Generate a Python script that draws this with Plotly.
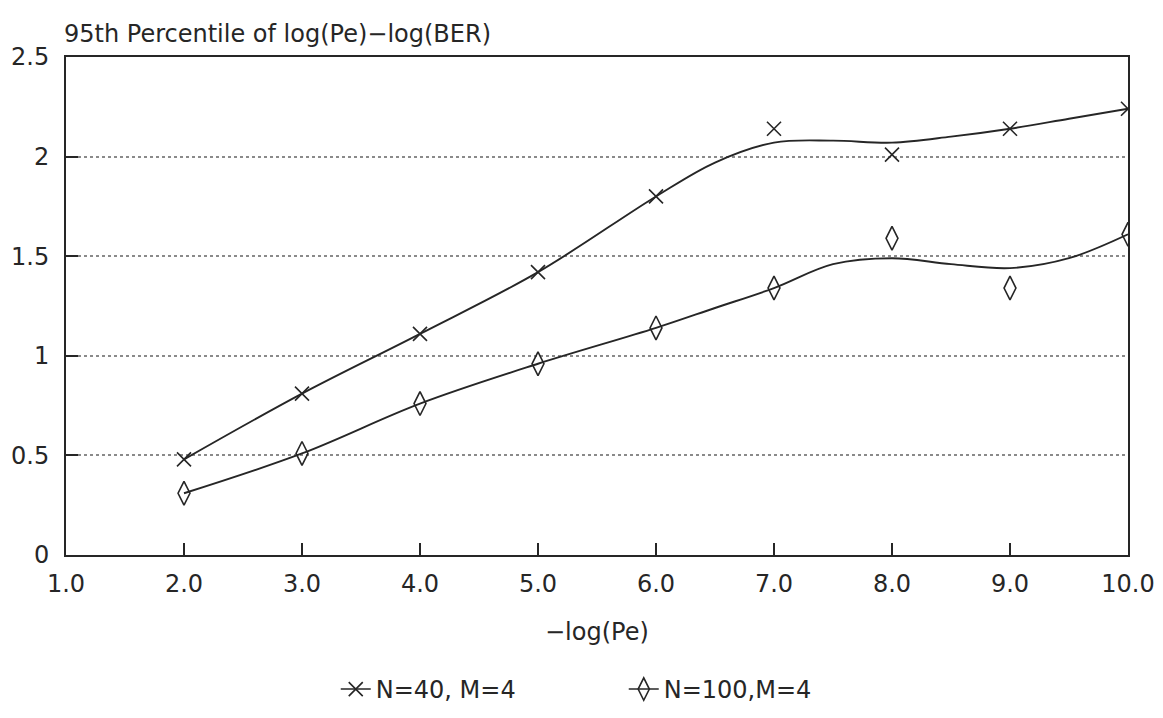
import plotly.graph_objects as go

# Measured points
x_pts = [2.0, 3.0, 4.0, 5.0, 6.0, 7.0, 8.0, 9.0, 10.0]
n40_pts = [0.48, 0.81, 1.11, 1.42, 1.80, 2.14, 2.01, 2.14, 2.24]
n100_pts = [0.31, 0.51, 0.76, 0.96, 1.14, 1.34, 1.59, 1.34, 1.61]

# Smoothed fitted curves
x_fit = [2.0, 3.0, 4.0, 5.0, 6.0, 6.5, 7.0, 7.5, 8.0, 8.5, 9.0, 9.5, 10.0]
n40_fit = [0.48, 0.81, 1.11, 1.42, 1.80, 1.97, 2.07, 2.08, 2.07, 2.10, 2.14, 2.19, 2.24]
n100_fit = [0.31, 0.51, 0.76, 0.96, 1.14, 1.24, 1.34, 1.46, 1.49, 1.46, 1.44, 1.49, 1.61]

x_ticks = [1, 2, 3, 4, 5, 6, 7, 8, 9, 10]
x_labels = ["1.0", "2.0", "3.0", "4.0", "5.0", "6.0", "7.0", "8.0", "9.0", "10.0"]
y_ticks = [0, 0.5, 1, 1.5, 2, 2.5]
y_labels = ["0", "0.5", "1", "1.5", "2", "2.5"]

series_names = ["N=40, M=4", "N=100,M=4"]

INK = "#262626"
FONT = "DejaVu Sans"

fig = go.Figure()

# fitted curves
for yv in (n40_fit, n100_fit):
    fig.add_trace(go.Scatter(x=x_fit, y=yv, mode="lines",
                             line=dict(color=INK, width=1.9, shape="spline", smoothing=1.0),
                             showlegend=False, hoverinfo="skip"))

mk40 = dict(symbol="x-thin-open", size=14, color=INK, line=dict(color=INK, width=1.6))
mk100 = dict(symbol="diamond-tall-open", size=17, color=INK, line=dict(color=INK, width=1.6))

# measured markers
fig.add_trace(go.Scatter(x=x_pts, y=n40_pts, mode="markers", marker=mk40, showlegend=False, name=series_names[0]))
fig.add_trace(go.Scatter(x=x_pts, y=n100_pts, mode="markers", marker=mk100, showlegend=False, name=series_names[1]))

# legend entries (line + marker)
fig.add_trace(go.Scatter(x=[None], y=[None], mode="lines+markers", name=series_names[0],
                         line=dict(color=INK, width=1.6), marker=mk40))
fig.add_trace(go.Scatter(x=[None], y=[None], mode="lines+markers", name=series_names[1],
                         line=dict(color=INK, width=1.6), marker=mk100))

fig.update_layout(
    width=1163, height=718,
    margin=dict(l=66, r=35, t=57, b=163, autoexpand=False),
    paper_bgcolor="white", plot_bgcolor="white",
    font=dict(family=FONT, color=INK, size=24),
    showlegend=True,
    legend=dict(orientation="h", x=0.254, xanchor="left", y=-0.27, yanchor="middle",
                entrywidth=243, entrywidthmode="pixels",
                font=dict(size=24, family=FONT, color=INK), bgcolor="rgba(0,0,0,0)"),
    xaxis=dict(range=[1, 10], tickvals=x_ticks, ticktext=x_labels, ticks="inside", ticklen=12,
               tickwidth=1.5, tickcolor=INK, showgrid=False, zeroline=False, automargin=False,
               showline=True, linecolor=INK, linewidth=2, mirror=True,
               ticklabelstandoff=6,
               tickfont=dict(size=24, family=FONT, color=INK)),
    yaxis=dict(range=[0, 2.5], tickvals=y_ticks, ticktext=y_labels, ticks="inside", ticklen=12,
               tickwidth=1.5, tickcolor=INK, showgrid=True, gridcolor="#8a8a8a", griddash="dot",
               gridwidth=1.5, zeroline=False, automargin=False,
               showline=True, linecolor=INK, linewidth=2, mirror=True,
               ticklabelstandoff=10,
               tickfont=dict(size=24, family=FONT, color=INK)),
    annotations=[
        dict(text="95th Percentile of log(Pe)\u2212log(BER)", xref="paper", yref="paper", x=-0.004, y=1.0,
             xanchor="left", yanchor="bottom", yshift=7, showarrow=False,
             font=dict(size=24, family=FONT, color=INK)),
        dict(text="\u2212log(Pe)", xref="paper", yref="paper", x=0.5, y=-0.155,
             xanchor="center", yanchor="middle", showarrow=False,
             font=dict(size=24, family=FONT, color=INK)),
    ],
)

fig.write_html("out.html")
